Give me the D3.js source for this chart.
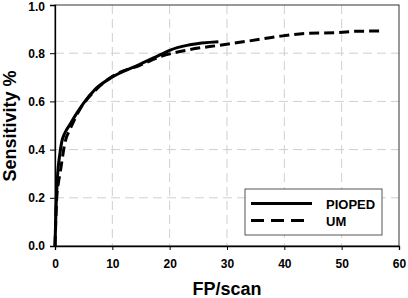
<!DOCTYPE html>
<html>
<head>
<meta charset="utf-8">
<script src="https://cdn.jsdelivr.net/npm/d3@7"></script>
<style>
  body { margin: 0; background: #fff; }
  svg text { font-family: "Liberation Sans", Arial, sans-serif; font-weight: bold; }
</style>
</head>
<body>
<svg id="chart" width="408" height="298"></svg>
<script>
// values
const piopedX = [0, 0.17, 0.4, 0.87, 1.16, 1.74, 2.6, 3.5, 4.9, 7.0, 9.9, 14.8, 18.8, 20, 23.5, 28.5];
const piopedY = [0, 0.15, 0.275, 0.386, 0.43, 0.47, 0.504, 0.54, 0.59, 0.65, 0.70, 0.754, 0.798, 0.812, 0.835, 0.848];
const umX = [0, 0.3, 0.58, 0.87, 1.16, 1.74, 2.6, 4.35, 7.2, 10.1, 14.8, 18.3, 23.5, 28.7, 33.9, 39.1, 43.8, 49.6, 52.5, 57.4];
const umY = [0, 0.2, 0.26, 0.3, 0.345, 0.43, 0.483, 0.567, 0.65, 0.705, 0.75, 0.785, 0.815, 0.833, 0.851, 0.87, 0.882, 0.886, 0.891, 0.892];
const xTicks = [0, 10, 20, 30, 40, 50, 60];
const yTicks = [0, 0.2, 0.4, 0.6, 0.8, 1.0];
const seriesNames = ['PIOPED', 'UM'];

const svg = d3.select('#chart');
const plotL = 55, plotR = 399, plotT = 5, plotB = 246;

const x = d3.scaleLinear().domain([0, 60]).range([plotL, plotR]);
const y = d3.scaleLinear().domain([0, 1]).range([plotB, plotT]);

// grid
const grid = svg.append('g').attr('stroke', '#cfcfcf').attr('stroke-dasharray', '9,5');
grid.selectAll('line.v')
  .data(xTicks.slice(1, -1))
  .join('line')
    .attr('x1', d => x(d)).attr('x2', d => x(d))
    .attr('y1', plotT).attr('y2', plotB);
grid.selectAll('line.h')
  .data(yTicks.slice(1, -1))
  .join('line')
    .attr('x1', plotL).attr('x2', plotR)
    .attr('y1', d => y(d)).attr('y2', d => y(d));

// frame
svg.append('rect')
  .attr('x', plotL).attr('y', plotT)
  .attr('width', plotR - plotL).attr('height', plotB - plotT)
  .attr('fill', 'none').attr('stroke', '#333');

// axes
const xAxis = svg.append('g')
  .attr('transform', `translate(0,${plotB})`)
  .call(d3.axisBottom(x).tickValues(xTicks).tickFormat(d3.format('d')).tickSize(4).tickPadding(9));
const yAxis = svg.append('g')
  .attr('transform', `translate(${plotL},0)`)
  .call(d3.axisLeft(y).tickValues(yTicks).tickFormat(d3.format('.1f')).tickSize(5).tickPadding(5));
[xAxis, yAxis].forEach(a => {
  a.select('.domain').attr('stroke', '#000').attr('stroke-width', 1.3);
  a.selectAll('.tick line').attr('stroke', '#000');
  a.selectAll('.tick text').attr('font-size', 12).attr('fill', '#000')
    .attr('font-family', '"Liberation Sans", Arial, sans-serif').attr('font-weight', 'bold');
});
// keep the top label inside the picture
yAxis.selectAll('.tick text').filter(d => d === 1).attr('dy', '0.45em');

// curves
const line = d3.line().x(d => x(d[0])).y(d => y(d[1])).curve(d3.curveMonotoneX);
svg.append('path')
  .datum(umX.map((v, i) => [v, umY[i]]))
  .attr('fill', 'none').attr('stroke', '#000').attr('stroke-width', 3)
  .attr('stroke-dasharray', '10,5')
  .attr('d', line);
svg.append('path')
  .datum(piopedX.map((v, i) => [v, piopedY[i]]))
  .attr('fill', 'none').attr('stroke', '#000').attr('stroke-width', 3)
  .attr('d', line);

// axis titles
svg.append('text')
  .attr('x', 227).attr('y', 295)
  .attr('text-anchor', 'middle').attr('font-size', 18)
  .text('FP/scan');
svg.append('text')
  .attr('transform', 'translate(16,126) rotate(-90)')
  .attr('text-anchor', 'middle').attr('font-size', 18)
  .text('Sensitivity %');

// legend
const lg = svg.append('g');
lg.append('rect')
  .attr('x', 245).attr('y', 189).attr('width', 137).attr('height', 46)
  .attr('fill', '#fff').attr('stroke', '#555');
seriesNames.forEach((name, i) => {
  const ly = 203.5 + i * 17;
  lg.append('line')
    .attr('x1', 251).attr('x2', i === 0 ? 312 : 305)
    .attr('y1', ly).attr('y2', ly)
    .attr('stroke', '#000').attr('stroke-width', 3)
    .attr('stroke-dasharray', i === 0 ? null : '13,7');
  lg.append('text')
    .attr('x', 326).attr('y', ly + 5)
    .attr('font-size', 13)
    .text(name);
});
</script>
</body>
</html>
